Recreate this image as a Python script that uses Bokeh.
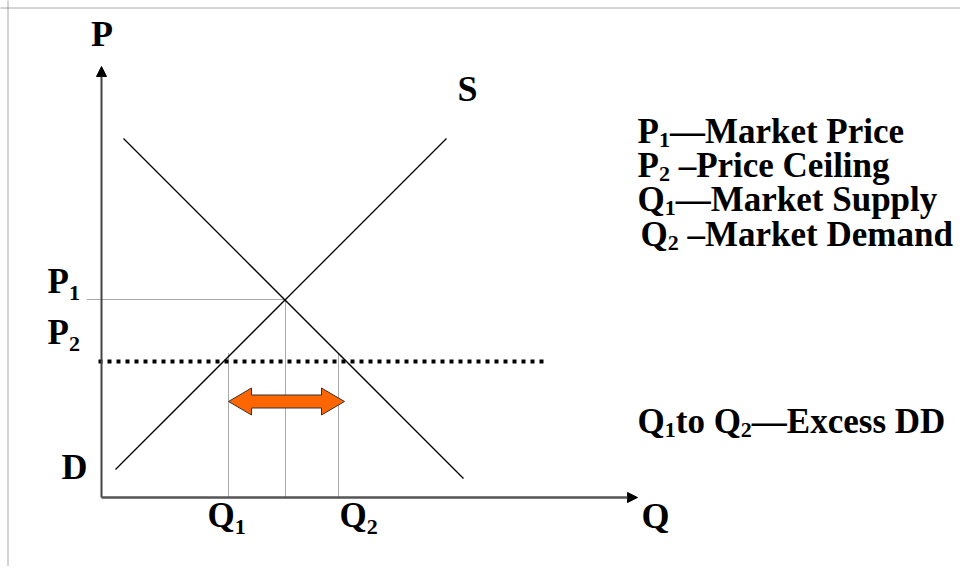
from bokeh.plotting import figure
from bokeh.models import Range1d, Span, Arrow, NormalHead, ColumnDataSource
from bokeh.core.properties import value
from bokeh.embed import file_html
from bokeh.resources import INLINE

# ---------------- data (Q, P units) ----------------
q_axis_max = 53.6
p_axis_max = 43.1
supply_q = [1.4, 34.5]
supply_p = [2.8, 35.9]
demand_q = [2.2, 36.2]
demand_p = [35.9, 1.9]
q_star = 18.4          # market equilibrium quantity
p_star = 19.8          # P1 market price
p_ceiling = 13.6       # P2 price ceiling
q1 = 12.7              # market supply at ceiling
q2 = 23.7              # market demand at ceiling
ceiling_q = [-0.3, 44.7]
q_guide_top = 14.4
p1_guide_start = -1.4
arrow_q = [12.7, 24.3]
arrow_p = 9.6

# label texts (odd segments are subscripts)
axis_labels = ["P", "S", "Q", "D"]
axis_label_x = [0.05, 36.6, 54.0, -4.0]
axis_label_y = [46.4, 40.9, -1.8, 3.1]
axis_label_align = ["center", "center", "left", "left"]

tick_labels = [["P", "1"], ["P", "2"], ["Q", "1"], ["Q", "2"]]
tick_label_x = [-5.4, -5.4, 10.6, 23.8]
tick_label_y = [21.6, 16.5, -1.8, -1.8]

legend_texts = [["P", "1", "—Market Price"],
                ["P", "2", "\u00a0–Price Ceiling"],
                ["Q", "1", "—Market Supply"],
                ["Q", "2", "\u00a0–Market Demand"],
                ["Q", "1", "to Q", "2", "—Excess DD"]]
legend_x = [53.6, 53.6, 53.6, 53.9, 53.6]
legend_y = [36.6, 33.2, 29.8, 26.3, 7.6]

# ---------------- figure ----------------
p = figure(width=960, height=566, output_backend="svg", toolbar_location=None,
           x_range=Range1d(-10.1, 85.9), y_range=Range1d(-6.9, 49.7),
           x_axis_type=None, y_axis_type=None, min_border=0)
p.grid.visible = False
p.outline_line_color = None
p.background_fill_color = "white"
p.border_fill_color = "white"

# dotted border (left and top)
p.add_layout(Span(location=-9.35, dimension="height", line_color="#555",
                  line_dash="1 1", line_width=1))
p.add_layout(Span(location=48.95, dimension="width", line_color="#555",
                  line_dash="1 1", line_width=1))

# axes with arrowheads
p.add_layout(Arrow(end=NormalHead(size=10, fill_color="black", line_color="black"),
                   x_start=0, y_start=0, x_end=0, y_end=p_axis_max,
                   line_color="#444", line_width=2))
p.add_layout(Arrow(end=NormalHead(size=10, fill_color="black", line_color="black"),
                   x_start=0, y_start=0, x_end=q_axis_max, y_end=0,
                   line_color="#555", line_width=2.5))

# thin dotted guides
guide = dict(line_color="#555", line_width=1, line_dash="1 1")
p.line([p1_guide_start, q_star], [p_star, p_star], **guide)
p.line([q_star, q_star], [p_star, 0], **guide)
p.line([q1, q1], [q_guide_top, 0], **guide)
p.line([q2, q2], [q_guide_top, 0], **guide)

# supply and demand
p.line(supply_q, supply_p, line_color="black", line_width=1.3)
p.line(demand_q, demand_p, line_color="black", line_width=1.3)

# price ceiling
p.line(ceiling_q, [p_ceiling, p_ceiling], line_color="black", line_width=4,
       line_dash="4 5", line_cap="butt")

# double-headed block arrow (excess demand)
hl, sh, hh = 2.3, 0.65, 1.35
a0, a1 = arrow_q
ay = arrow_p
xs = [a0, a0 + hl, a0 + hl, a1 - hl, a1 - hl, a1, a1 - hl, a1 - hl, a0 + hl, a0 + hl]
ys = [ay, ay + hh, ay + sh, ay + sh, ay + hh, ay, ay - hh, ay - sh, ay - sh, ay - hh]
p.patch(xs, ys, fill_color="#FF6600", line_color="#333333", line_width=1)

# ---------------- text ----------------
FONT = value("Liberation Serif")
CHAR_W = {"P": 0.611, "Q": 0.778, "t": 0.333, "o": 0.5, " ": 0.25, "1": 0.5, "2": 0.5}


def seg_width(s, size):
    return sum(CHAR_W.get(c, 0.5) for c in s) * size


def add_rich(labels, xs_, ys_, base_size, sub_size, sub_drop):
    norm = dict(x=[], y=[], text=[], xo=[])
    sub = dict(x=[], y=[], text=[], xo=[])
    for segs, x, y in zip(labels, xs_, ys_):
        off = 0.0
        for i, s in enumerate(segs):
            d = sub if i % 2 else norm
            size = sub_size if i % 2 else base_size
            d["x"].append(x)
            d["y"].append(y)
            d["text"].append(s)
            d["xo"].append(off)
            off += seg_width(s, size)
    p.text(x="x", y="y", text="text", x_offset="xo", source=ColumnDataSource(norm),
           text_font=FONT, text_font_style="bold", text_font_size=f"{base_size}px",
           text_color="black", text_align="left", text_baseline="alphabetic")
    p.text(x="x", y="y", text="text", x_offset="xo", y_offset=sub_drop,
           source=ColumnDataSource(sub),
           text_font=FONT, text_font_style="bold", text_font_size=f"{sub_size}px",
           text_color="black", text_align="left", text_baseline="alphabetic")


p.text(x="x", y="y", text="t", text_align="a",
       source=ColumnDataSource(dict(x=axis_label_x, y=axis_label_y, t=axis_labels,
                                    a=axis_label_align)),
       text_font=FONT, text_font_style="bold", text_font_size="36px",
       text_color="black", text_baseline="alphabetic")

add_rich(tick_labels, tick_label_x, tick_label_y, 35, 22, 11)
add_rich(legend_texts, legend_x, legend_y, 35, 22, 8)

open("out.html", "w").write(file_html(p, INLINE))
